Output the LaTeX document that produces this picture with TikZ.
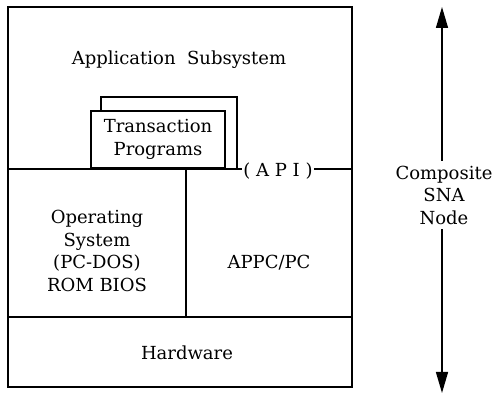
\documentclass[tikz,border=0pt]{standalone}
\usepackage{fontspec}
\setmainfont{DejaVu Serif}
\usetikzlibrary{positioning, arrows.meta}

\begin{document}
\begin{tikzpicture}[x=1pt, y=-1pt, line width=1.4pt,
    every node/.style={font=\fontsize{18}{22.5}\selectfont, align=center},
    box/.style={draw, inner sep=0pt},
    tip/.style={-{Triangle[length=21pt, width=12pt]}}]
    \useasboundingbox (0,0) rectangle (496,395);

    % stack of layers
    \node (app)  [box, minimum width=344pt, minimum height=162pt] at (180,88)  {};
    \node (os)   [box, minimum width=178pt, minimum height=148pt] at (97,243)  {};
    \node (appc) [box, minimum width=166pt, minimum height=148pt] at (269,243) {};
    \node (hw)   [box, minimum width=344pt, minimum height=70pt]  at (180,352) {};

    \node (appText)  at (179,60)  {Application\ \ Subsystem};
    \node (osText)   at (97,251)  {Operating\\System\\(PC-DOS)\\ROM BIOS};
    \node (appcText) at (269,263) {APPC/PC};
    \node (hwText)   at (187,353) {Hardware};

    \node (tpback)  [box, fill=white, minimum width=136pt, minimum height=72pt] at (169,133)   {};
    \node (tpfront) [box, fill=white, minimum width=134pt, minimum height=57pt] at (158,139.5) {Transaction\\Programs};

    \node (api) [fill=white, inner sep=1pt] at (278,171) {( A P I )};

    % node extent
    \coordinate (top)    at (442,7);
    \coordinate (bottom) at (442,393);
    \node (sna) [inner sep=4pt] at (444,195) {Composite\\SNA\\Node};

    \draw[tip] (sna.north -| top)    -- (top);
    \draw[tip] (sna.south -| bottom) -- (bottom);
\end{tikzpicture}
\end{document}
